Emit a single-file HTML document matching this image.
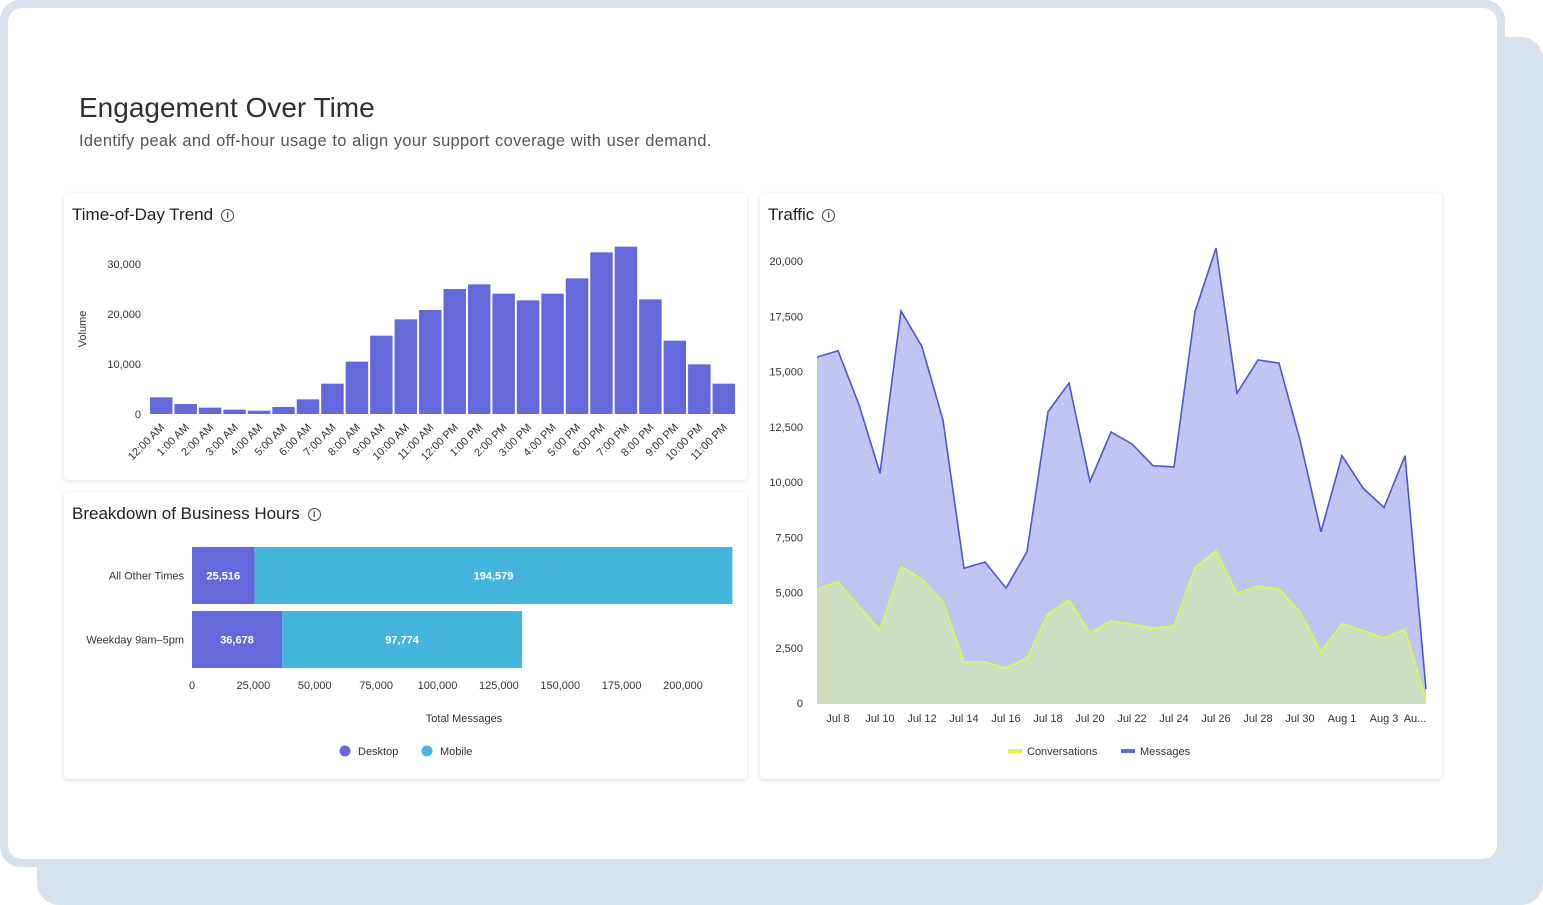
<!DOCTYPE html>
<html><head><meta charset="utf-8"><style>
body{margin:0;width:1543px;height:905px;background:#fff;position:relative;overflow:hidden;font-family:"Liberation Sans",Arial,sans-serif;}
.abs{position:absolute}
.panel{position:absolute;background:#fff;border-radius:4px;box-shadow:0 1px 4px rgba(0,0,0,0.12);}
.ptitle{position:absolute;left:8px;top:12px;font-size:17px;color:#202124;}
.info{display:inline-block;width:11px;height:11px;border:1.3px solid #444;border-radius:50%;font-size:9px;line-height:11px;text-align:center;margin-left:8px;vertical-align:middle;font-weight:bold;color:#444}
svg text{font-family:"Liberation Sans",Arial,sans-serif;}
</style></head><body>
<div class="abs" style="left:37px;top:37px;width:1506px;height:868px;background:#d8e2ec;border-radius:22px"></div>
<div class="abs" style="left:0;top:0;width:1505px;height:867px;background:#d8e2ec;border-radius:20px"></div>
<div class="abs" style="left:8px;top:8px;width:1489px;height:851px;background:#fff;border-radius:14px"></div>
<div class="abs" style="left:79px;top:92px;font-size:28px;color:#2d3136">Engagement Over Time</div>
<div class="abs" style="left:79px;top:132px;font-size:16.5px;color:#555;letter-spacing:0.3px;word-spacing:0.5px">Identify peak and off-hour usage to align your support coverage with user demand.</div>

<div class="panel" style="left:64px;top:193px;width:683px;height:287px">
<div class="ptitle">Time-of-Day Trend<span class="info">i</span></div>
</div>
<div class="panel" style="left:64px;top:492px;width:683px;height:287px">
<div class="ptitle">Breakdown of Business Hours<span class="info">i</span></div>
</div>
<div class="panel" style="left:760px;top:193px;width:682px;height:586px">
<div class="ptitle">Traffic<span class="info">i</span></div>
</div>

<svg id="chart" class="abs" style="left:0;top:0" width="1543" height="905"></svg>

<script>
const hourLabels=["12:00 AM","1:00 AM","2:00 AM","3:00 AM","4:00 AM","5:00 AM","6:00 AM","7:00 AM","8:00 AM","9:00 AM","10:00 AM","11:00 AM","12:00 PM","1:00 PM","2:00 PM","3:00 PM","4:00 PM","5:00 PM","6:00 PM","7:00 PM","8:00 PM","9:00 PM","10:00 PM","11:00 PM"];
const hourValues=[3330,2000,1270,870,670,1400,2930,6070,10470,15670,18930,20800,25000,25930,24070,22730,24070,27130,32330,33470,22930,14670,9930,6070];
const hourTicks=[0,10000,20000,30000];

const segCategories=["All Other Times","Weekday 9am–5pm"];
const desktopValues=[25516,36678];
const mobileValues=[194579,97774];
const segTicks=[0,25000,50000,75000,100000,125000,150000,175000,200000];

const dayLabels=["Jul 7","Jul 8","Jul 9","Jul 10","Jul 11","Jul 12","Jul 13","Jul 14","Jul 15","Jul 16","Jul 17","Jul 18","Jul 19","Jul 20","Jul 21","Jul 22","Jul 23","Jul 24","Jul 25","Jul 26","Jul 27","Jul 28","Jul 29","Jul 30","Jul 31","Aug 1","Aug 2","Aug 3","Aug 4","Aug 5"];
const messageValues=[15650,15940,13500,10400,17740,16120,12800,6100,6380,5200,6850,13180,14480,10020,12260,11720,10740,10680,17700,20590,14020,15520,15380,11900,7750,11190,9730,8840,11190,630];
const conversationValues=[5160,5490,4360,3300,6170,5610,4570,1860,1860,1580,2050,4030,4660,3160,3720,3570,3380,3480,6120,6890,4970,5290,5160,4130,2320,3600,3270,2940,3340,130];
const trafficTicks=[0,2500,5000,7500,10000,12500,15000,17500,20000];
const trafficLabelIdx=[1,3,5,7,9,11,13,15,17,19,21,23,25,27,29];

const svg=document.getElementById('chart');
const NS='http://www.w3.org/2000/svg';
function mk(tag,attrs,text){const e=document.createElementNS(NS,tag);for(const k in attrs)e.setAttribute(k,attrs[k]);if(text!==undefined)e.textContent=text;svg.appendChild(e);return e;}
const fmt=v=>v.toLocaleString('en-US');

// Time of day
const hx0=149,hx1=736,hy0=414,hScale=150/30000;
const hy=v=>hy0-v*hScale;
const hStep=(hx1-hx0)/hourValues.length;
hourTicks.forEach(t=>{
 const e=mk('text',{x:141,y:hy(t)+4,'text-anchor':'end','font-size':11,fill:'#333'},fmt(t));
 
 
});
{const e=mk('text',{transform:'translate(86,329) rotate(-90)','text-anchor':'middle','font-size':11,fill:'#333'},'Volume');
}
hourValues.forEach((v,i)=>{
 const x=hx0+i*hStep;
 const r=mk('rect',{x:x+1,y:hy(v),width:hStep-2,height:v*hScale,fill:'#6369db'});
 
 
 const cx=x+hStep/2+4;
 const t=mk('text',{transform:`translate(${cx},${hy0+14}) rotate(-45)`,'text-anchor':'end','font-size':11,fill:'#333'},hourLabels[i]);
 
 
});

// Business hours
const bx0=192,bScale=491/200000;
const bx=v=>bx0+v*bScale;
const rowY=[547,611],rowH=57;
segCategories.forEach((c,i)=>{
 const y=rowY[i];
 const l=mk('text',{x:184,y:y+rowH/2+4,'text-anchor':'end','font-size':11,fill:'#333'},c);
 
 
 const d=mk('rect',{x:bx(0),y:y,width:desktopValues[i]*bScale,height:rowH,fill:'#6369db'});
 
 
 const m=mk('rect',{x:bx(desktopValues[i]),y:y,width:mobileValues[i]*bScale,height:rowH,fill:'#45b5de'});
 
 
 const dl=mk('text',{x:bx(desktopValues[i]/2),y:y+rowH/2+4,'text-anchor':'middle','font-size':11,'font-weight':'bold',fill:'#fff'},fmt(desktopValues[i]));
 
 
 const ml=mk('text',{x:bx(desktopValues[i]+mobileValues[i]/2),y:y+rowH/2+4,'text-anchor':'middle','font-size':11,'font-weight':'bold',fill:'#fff'},fmt(mobileValues[i]));
 
 
});
segTicks.forEach(t=>{
 const e=mk('text',{x:bx(t),y:689,'text-anchor':'middle','font-size':11,fill:'#333'},fmt(t));
 
 
});
{const e=mk('text',{x:464,y:722,'text-anchor':'middle','font-size':11,fill:'#333'},'Total Messages');
}
[["Desktop","#6369db",345],["Mobile","#45b5de",427]].forEach(([n,c,x])=>{
 const ci=mk('circle',{cx:x,cy:751,r:5.5,fill:c});
 
 
 const t=mk('text',{x:x+13,y:755,'font-size':11,fill:'#333'},n);
 
 
});

// Traffic
const tx0=817,tStep=21,ty0=703,tScale=442/20000;
const tx=i=>tx0+i*tStep, ty=v=>ty0-v*tScale;
trafficTicks.forEach(t=>{
 const e=mk('text',{x:803,y:ty(t)+4,'text-anchor':'end','font-size':11,fill:'#333'},fmt(t));
 
 
});
function area(vals){return `M${tx(0)},${ty0} `+vals.map((v,i)=>`L${tx(i)},${ty(v)}`).join(' ')+` L${tx(vals.length-1)},${ty0} Z`;}
function line(vals){return vals.map((v,i)=>(i?'L':'M')+tx(i)+','+ty(v)).join(' ');}
{const a=mk('path',{d:area(messageValues),fill:'#c2c4f1'});}
{const a=mk('path',{d:area(conversationValues),fill:'#cfdcc0'});}
{const l=mk('path',{d:line(messageValues),fill:'none',stroke:'#4f55d6','stroke-width':1.6});}
{const l=mk('path',{d:line(conversationValues),fill:'none',stroke:'#dcf84a','stroke-width':1.6});}
{const l=mk('line',{x1:tx0,x2:tx(29),y1:ty0+0.5,y2:ty0+0.5,stroke:'#cfd3f0','stroke-width':1});}
trafficLabelIdx.forEach(i=>{
 const last=i===29;
 const lab=last?'Au...':dayLabels[i];
 const e=mk('text',{x:tx(i)-(last?11:0),y:722,'text-anchor':'middle','font-size':11,fill:'#333'},lab);
 
 
});
[["Conversations","#dcf84a",1008],["Messages","#6369db",1121]].forEach(([n,c,x])=>{
 const r=mk('rect',{x:x,y:749,width:14,height:4,fill:c});
 
 
 const t=mk('text',{x:x+19,y:755,'font-size':11,fill:'#333'},n);
 
 
});
</script>
</body></html>
